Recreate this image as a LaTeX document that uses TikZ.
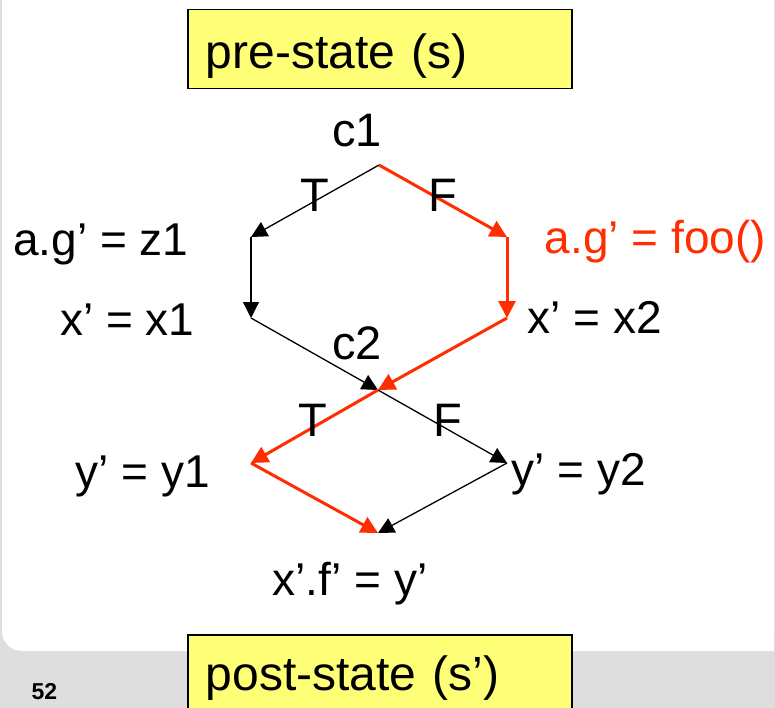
\documentclass[tikz,border=0pt]{standalone}
\usepackage{fontspec}
\setmainfont{Liberation Sans}
\usetikzlibrary{arrows.meta}
\definecolor{hired}{RGB}{255,45,0}
\definecolor{boxyellow}{RGB}{255,255,119}
\definecolor{stripgray}{RGB}{222,222,222}
\begin{document}
\begin{tikzpicture}[x=1pt,y=-1pt,
  lbl/.style={anchor=base, inner sep=0pt, font=\fontsize{46}{54}\selectfont},
  cond/.style={anchor=base, inner sep=0pt, font=\fontsize{47}{56}\selectfont},
  statebox/.style={draw=black, line width=1.5pt, fill=boxyellow, anchor=north west,
    minimum width=384pt, minimum height=79pt, text width=348pt, inner xsep=18pt,
    inner ysep=0pt, align=left, text depth=0pt, font=\fontsize{48}{56}\selectfont},
  blk/.style={draw=black, line width=1.3pt, -{Triangle[length=16pt,width=16pt]}},
  redarr/.style={draw=hired, line width=3pt, -{Triangle[length=17pt,width=17pt]}},
]
\useasboundingbox (0,0) rectangle (775,708);
% background
\fill[stripgray] (0,0) rectangle (775,708);
\fill[white, rounded corners=20pt] (2,-40) rectangle (774,651);
\fill[white] (700,600) rectangle (774,651);

% junction points
\coordinate (p1) at (379,165);
\coordinate (lA) at (251,237);
\coordinate (lB) at (251,318);
\coordinate (rA) at (507,237);
\coordinate (rB) at (507,318);
\coordinate (p2) at (378,390);
\coordinate (yL) at (251,463);
\coordinate (yR) at (507,463);
\coordinate (pb) at (378,533);

% black edges
\draw[blk] (p1) -- (lA);
\draw[blk] (lA) -- (lB);
\draw[blk] (lB) -- (p2);
\draw[blk] (p2) -- (yR);
\draw[blk] (yR) -- (pb);
% red edges
\draw[redarr] (p1) -- (rA);
\draw[redarr] (rA) -- (rB);
\draw[redarr] (rB) -- (p2);
\draw[redarr] (p2) -- (yL);
\draw[redarr] (yL) -- (pb);

% labels
\node[cond] (c1) at (357,147) {c1};
\node[cond] (c2) at (357,359) {c2};
\node[cond] (t1) at (315,212) {T};
\node[cond] (f1) at (443,212) {F};
\node[cond] (t2) at (313,436) {T};
\node[cond] (f2) at (448,436) {F};
\node[lbl] (ag1) at (101,255) {a.g’ = z1};
\node[lbl] (x1) at (127.5,335) {x’ = x1};
\node[lbl, text=hired] (ag2) at (655.5,254) {a.g’ = foo()};
\node[lbl] (x2) at (594.5,333) {x’ = x2};
\node[lbl] (y1) at (143,487) {y’ = y1};
\node[lbl] (y2) at (578.5,485) {y’ = y2};
\node[lbl] (xf) at (350,595) {x’.f’ = y’};

% state boxes
\node[statebox, text height=39pt] (pre) at (187,9) {pre-state (s)};
\node[statebox, text height=33pt] (post) at (187,634) {post-state (s’)};

\node[anchor=base, inner sep=0pt, font=\bfseries\fontsize{23}{26}\selectfont] (pg) at (44.5,699) {52};
\end{tikzpicture}
\end{document}
